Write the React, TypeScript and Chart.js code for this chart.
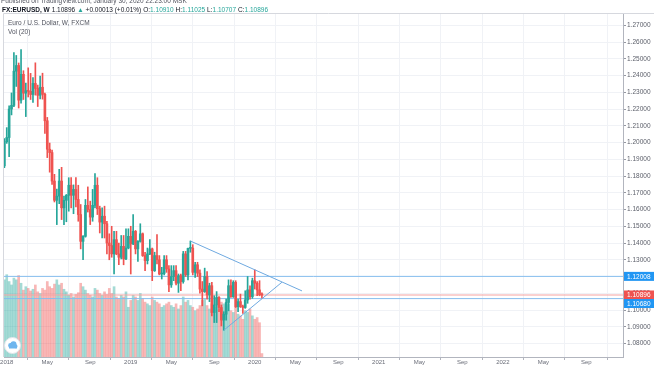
import React, { useEffect, useRef } from 'react';
import { Chart, registerables } from 'chart.js';

Chart.register(...registerables);

// Weekly bars, index 0 = week of Dec 25 2017
const opens = [
  1.1860, 1.2005, 1.2030, 1.2200, 1.2222, 1.2426, 1.2460, 1.2253, 1.2407, 1.2295,
  1.2310, 1.2306, 1.2287, 1.2353, 1.2323, 1.2282, 1.2330, 1.2288, 1.2130, 1.1960,
  1.1940, 1.1770, 1.1655, 1.1680, 1.1770, 1.1610, 1.1655, 1.1685, 1.1745, 1.1685,
  1.1720, 1.1660, 1.1570, 1.1410, 1.1440, 1.1625, 1.1600, 1.1555, 1.1625, 1.1745,
  1.1605, 1.1525, 1.1560, 1.1515, 1.1400, 1.1385, 1.1335, 1.1420, 1.1335, 1.1315,
  1.1380, 1.1305, 1.1370, 1.1440, 1.1395, 1.1470, 1.1365, 1.1410, 1.1455, 1.1325,
  1.1295, 1.1335, 1.1365, 1.1235, 1.1325, 1.1300, 1.1215, 1.1218, 1.1300, 1.1245,
  1.1150, 1.1200, 1.1235, 1.1160, 1.1205, 1.1170, 1.1335, 1.1210, 1.1368, 1.1370,
  1.1225, 1.1270, 1.1220, 1.1125, 1.1110, 1.1200, 1.1090, 1.1145, 1.0985, 1.1030,
  1.1075, 1.1015, 1.0940, 1.0975, 1.1045, 1.1145, 1.1080, 1.1165, 1.1020, 1.1050,
  1.1020, 1.1015, 1.1060, 1.1120, 1.1080, 1.1175, 1.1160, 1.1120, 1.1091,
];
const highs = [
  1.2023, 1.2089, 1.2219, 1.2296, 1.2537, 1.2520, 1.2475, 1.2555, 1.2429, 1.2355,
  1.2446, 1.2413, 1.2388, 1.2476, 1.2343, 1.2397, 1.2414, 1.2296, 1.2150, 1.1997,
  1.1955, 1.1810, 1.1722, 1.1840, 1.1852, 1.1680, 1.1690, 1.1790, 1.1790, 1.1747,
  1.1790, 1.1745, 1.1630, 1.1445, 1.1660, 1.1735, 1.1650, 1.1720, 1.1815, 1.1790,
  1.1620, 1.1610, 1.1620, 1.1530, 1.1455, 1.1500, 1.1470, 1.1470, 1.1400, 1.1445,
  1.1445, 1.1485, 1.1485, 1.1500, 1.1570, 1.1475, 1.1415, 1.1515, 1.1460, 1.1345,
  1.1370, 1.1420, 1.1370, 1.1345, 1.1450, 1.1325, 1.1255, 1.1325, 1.1325, 1.1265,
  1.1265, 1.1265, 1.1265, 1.1215, 1.1215, 1.1350, 1.1350, 1.1370, 1.1412, 1.1390,
  1.1285, 1.1285, 1.1240, 1.1170, 1.1250, 1.1230, 1.1160, 1.1165, 1.1085, 1.1110,
  1.1080, 1.1030, 1.0990, 1.1065, 1.1180, 1.1180, 1.1175, 1.1175, 1.1065, 1.1095,
  1.1030, 1.1115, 1.1200, 1.1145, 1.1190, 1.1240, 1.1170, 1.1175, 1.11025,
];
const lows = [
  1.1850, 1.1995, 1.1916, 1.2165, 1.2214, 1.2335, 1.2206, 1.2235, 1.2257, 1.2155,
  1.2272, 1.2257, 1.2240, 1.2283, 1.2215, 1.2260, 1.2259, 1.2055, 1.1910, 1.1823,
  1.1750, 1.1645, 1.1510, 1.1635, 1.1540, 1.1510, 1.1527, 1.1590, 1.1610, 1.1575,
  1.1615, 1.1530, 1.1365, 1.1300, 1.1435, 1.1585, 1.1510, 1.1530, 1.1610, 1.1570,
  1.1460, 1.1430, 1.1430, 1.1335, 1.1300, 1.1315, 1.1215, 1.1330, 1.1270, 1.1305,
  1.1270, 1.1300, 1.1365, 1.1215, 1.1390, 1.1335, 1.1290, 1.1405, 1.1320, 1.1235,
  1.1275, 1.1330, 1.1175, 1.1230, 1.1275, 1.1210, 1.1185, 1.1210, 1.1225, 1.1110,
  1.1135, 1.1175, 1.1150, 1.1105, 1.1115, 1.1160, 1.1200, 1.1180, 1.1345, 1.1210,
  1.1195, 1.1200, 1.1100, 1.1025, 1.1105, 1.1065, 1.1050, 1.0965, 1.0925, 1.0925,
  1.0990, 1.0905, 1.0879, 1.0940, 1.0995, 1.1075, 1.1075, 1.1015, 1.0990, 1.1015,
  1.0980, 1.1010, 1.1040, 1.1065, 1.1070, 1.1125, 1.1085, 1.1085, 1.10707,
];
const closes = [
  1.2005, 1.2030, 1.2200, 1.2222, 1.2426, 1.2460, 1.2253, 1.2407, 1.2295, 1.2310,
  1.2306, 1.2287, 1.2353, 1.2323, 1.2282, 1.2330, 1.2288, 1.2130, 1.1960, 1.1940,
  1.1770, 1.1655, 1.1680, 1.1770, 1.1610, 1.1655, 1.1685, 1.1745, 1.1685, 1.1720,
  1.1660, 1.1570, 1.1410, 1.1440, 1.1625, 1.1600, 1.1555, 1.1625, 1.1745, 1.1605,
  1.1525, 1.1560, 1.1515, 1.1400, 1.1385, 1.1335, 1.1420, 1.1335, 1.1315, 1.1380,
  1.1305, 1.1370, 1.1440, 1.1395, 1.1470, 1.1365, 1.1410, 1.1455, 1.1325, 1.1295,
  1.1335, 1.1365, 1.1235, 1.1325, 1.1300, 1.1215, 1.1218, 1.1300, 1.1245, 1.1150,
  1.1200, 1.1235, 1.1160, 1.1205, 1.1170, 1.1335, 1.1210, 1.1368, 1.1370, 1.1225,
  1.1270, 1.1220, 1.1125, 1.1110, 1.1200, 1.1090, 1.1145, 1.0985, 1.1030, 1.1075,
  1.1015, 1.0940, 1.0975, 1.1045, 1.1145, 1.1080, 1.1165, 1.1020, 1.1050, 1.1020,
  1.1015, 1.1060, 1.1120, 1.1080, 1.1175, 1.1160, 1.1120, 1.1091, 1.10896,
];
const volumes = [
  90, 96, 88, 84, 92, 90, 95, 86, 78, 82, 80, 77, 79, 84, 76, 74, 80, 78, 88,
  82, 80, 85, 90, 84, 86, 79, 76, 72, 74, 70, 73, 75, 86, 82, 78, 74, 72,
  70, 80, 78, 74, 72, 76, 73, 80, 74, 82, 70, 68, 72, 70, 76, 58, 66,
  72, 70, 66, 74, 68, 64, 62, 60, 70, 66, 64, 62, 58, 60, 62, 64, 60,
  58, 62, 56, 60, 70, 64, 66, 60, 58, 54, 56, 60, 66, 68, 60, 56, 62,
  58, 60, 56, 64, 62, 60, 62, 54, 52, 58, 50, 48, 44, 54, 52, 56, 48, 44,
  46, 40, 4,
];

const timeTickIndex = [1, 18, 36, 53, 70, 88, 105, 122, 140, 157, 174, 192, 209, 226, 244];
const timeTickLabels = ['2018', 'May', 'Sep', '2019', 'May', 'Sep', '2020', 'May', 'Sep', '2021', 'May', 'Sep', '2022', 'May', 'Sep'];
const priceTicks = [1.08, 1.09, 1.10, 1.11, 1.12, 1.13, 1.14, 1.15, 1.16, 1.17, 1.18, 1.19, 1.20, 1.21, 1.22, 1.23, 1.24, 1.25, 1.26, 1.27];

const supportLevel = 1.12008;
const lowerLevel = 1.1068;
const lastPrice = 1.10896;
const upperTrend = [{ x: 78, y: 1.1412 }, { x: 124.8, y: 1.1114 }];
const lowerTrend = [{ x: 92, y: 1.0879 }, { x: 116.4, y: 1.1166 }];

const X_MIN = -0.15;
const X_MAX = 259.4;
const Y_MIN = 1.07194;
const Y_MAX = 1.27675;

const UP = '#26a69a';
const DOWN = '#ef5350';
const FONT = '"Liberation Sans", Arial, sans-serif';

const drawPlugin = {
  id: 'tvDecor',
  afterDraw(chart: any) {
    const ctx = chart.ctx as CanvasRenderingContext2D;
    const { left, top, right, bottom } = chart.chartArea;
    const ys = chart.scales.y;
    const xs = chart.scales.x;
    ctx.save();

    // frame (top & left)
    ctx.strokeStyle = '#d6d8de';
    ctx.lineWidth = 1;
    ctx.beginPath();
    ctx.moveTo(left - 0.5, bottom);
    ctx.lineTo(left - 0.5, top - 0.5);
    ctx.lineTo(chart.width, top - 0.5);
    ctx.stroke();

    // time labels
    ctx.fillStyle = '#6a6d78';
    ctx.font = `6px ${FONT}`;
    ctx.textAlign = 'center';
    ctx.textBaseline = 'middle';
    timeTickIndex.forEach((v, i) => {
      ctx.fillText(timeTickLabels[i], xs.getPixelForValue(v), bottom + 5.5);
    });

    // price tags
    const tag = (price: number, cy: number, color: string) => {
      ctx.fillStyle = color;
      ctx.fillRect(right + 1, cy - 4.5, chart.width - right - 1, 9);
      ctx.fillStyle = '#ffffff';
      ctx.font = `6.5px ${FONT}`;
      ctx.textAlign = 'left';
      ctx.textBaseline = 'middle';
      ctx.fillText(price.toFixed(5), right + 4, cy + 0.5);
    };
    tag(supportLevel, ys.getPixelForValue(supportLevel), '#2196f3');
    const redY = ys.getPixelForValue(lastPrice);
    tag(lastPrice, redY, '#ef5350');
    tag(lowerLevel, Math.max(ys.getPixelForValue(lowerLevel), redY + 8.5), '#2196f3');

    // header
    ctx.textAlign = 'left';
    ctx.textBaseline = 'middle';
    ctx.fillStyle = '#50535e';
    ctx.font = `6.5px ${FONT}`;
    ctx.fillText('Published on TradingView.com, January 30, 2020 22:23:00 MSK', 1, 1.5);

    let x = 2;
    const seg = (t: string, color: string, bold = false) => {
      ctx.font = `${bold ? 'bold ' : ''}6.5px ${FONT}`;
      ctx.fillStyle = color;
      ctx.fillText(t, x, 10.5);
      x += ctx.measureText(t).width + 2;
    };
    seg('FX:EURUSD, W', '#131722', true);
    seg('1.10896', '#131722');
    seg('▲', UP);
    seg('+0.00013 (+0.01%)', '#131722');
    seg('O:', '#131722');
    x -= 2;
    seg('1.10910', UP);
    seg('H:', '#131722');
    x -= 2;
    seg('1.11025', UP);
    seg('L:', '#131722');
    x -= 2;
    seg('1.10707', UP);
    seg('C:', '#131722');
    x -= 2;
    seg('1.10896', UP);

    ctx.font = `6.5px ${FONT}`;
    ctx.fillStyle = '#50535e';
    ctx.fillText('Euro / U.S. Dollar, W, FXCM', left + 4, 23.5);
    ctx.fillText('Vol (20)', left + 4, 32);

    // logo
    ctx.beginPath();
    ctx.arc(12.5, 345.5, 8, 0, Math.PI * 2);
    ctx.fillStyle = '#ffffff';
    ctx.fill();
    ctx.strokeStyle = '#e3e5ea';
    ctx.stroke();
    ctx.fillStyle = '#6fb6ee';
    ctx.beginPath();
    ctx.arc(10.5, 345.5, 2.4, 0, Math.PI * 2);
    ctx.arc(13.5, 344.2, 3, 0, Math.PI * 2);
    ctx.arc(15.5, 346.3, 2, 0, Math.PI * 2);
    ctx.fill();
    ctx.fillRect(9, 346, 8, 2.5);

    ctx.restore();
  },
};

export default function App() {
  const ref = useRef<HTMLCanvasElement>(null);

  useEffect(() => {
    if (!ref.current) return;
    const idx = closes.map((_, i) => i);
    const dirColor = idx.map((i) => (closes[i] >= opens[i] ? UP : DOWN));
    const volColor = idx.map((i) => (closes[i] >= opens[i] ? 'rgba(38,166,154,0.42)' : 'rgba(239,83,80,0.42)'));

    const chart = new Chart(ref.current, {
      type: 'bar',
      data: {
        datasets: [
          {
            type: 'line',
            data: upperTrend,
            borderColor: '#6ea9e0',
            borderWidth: 1,
            pointRadius: 0,
            yAxisID: 'y',
            order: 0,
          } as any,
          {
            type: 'line',
            data: lowerTrend,
            borderColor: '#6ea9e0',
            borderWidth: 1,
            pointRadius: 0,
            yAxisID: 'y',
            order: 0,
          } as any,
          {
            type: 'bar',
            data: idx.map((i) => ({ x: i, y: [opens[i], closes[i]] })),
            backgroundColor: dirColor,
            barThickness: 2,
            minBarLength: 1,
            grouped: false,
            yAxisID: 'y',
            order: 1,
          } as any,
          {
            type: 'bar',
            data: idx.map((i) => ({ x: i, y: [lows[i], highs[i]] })),
            backgroundColor: dirColor,
            barThickness: 1,
            grouped: false,
            yAxisID: 'y',
            order: 2,
          } as any,
          {
            type: 'line',
            data: [{ x: X_MIN, y: supportLevel }, { x: X_MAX, y: supportLevel }],
            borderColor: '#86bdee',
            borderWidth: 1,
            pointRadius: 0,
            yAxisID: 'y',
            order: 5,
          } as any,
          {
            type: 'line',
            data: [{ x: X_MIN, y: lastPrice }, { x: X_MAX, y: lastPrice }],
            borderColor: '#f4a3a2',
            borderWidth: 1,
            pointRadius: 0,
            yAxisID: 'y',
            order: 5,
          } as any,
          {
            type: 'line',
            data: [{ x: X_MIN, y: lowerLevel }, { x: X_MAX, y: lowerLevel }],
            borderColor: '#86bdee',
            borderWidth: 1,
            pointRadius: 0,
            yAxisID: 'y',
            order: 5,
          } as any,
          {
            type: 'bar',
            data: idx.map((i) => ({ x: i, y: volumes[i] })),
            backgroundColor: volColor,
            barThickness: 2,
            grouped: false,
            yAxisID: 'yv',
            order: 10,
          } as any,
        ],
      },
      options: {
        animation: false,
        responsive: false,
        maintainAspectRatio: false,
        devicePixelRatio: 1,
        layout: { padding: { left: 4, top: 14, right: 0, bottom: 0 } },
        plugins: { legend: { display: false }, tooltip: { enabled: false } },
        scales: {
          x: {
            type: 'linear',
            min: X_MIN,
            max: X_MAX,
            offset: false,
            afterBuildTicks: (s: any) => {
              s.ticks = timeTickIndex.map((v) => ({ value: v }));
            },
            afterFit: (s: any) => {
              s.height = 9;
            },
            ticks: { display: false },
            grid: { color: '#f0f2f6', tickLength: 3, tickColor: '#b2b5be' },
            border: { display: true, color: '#b2b5be' },
          },
          y: {
            position: 'right',
            min: Y_MIN,
            max: Y_MAX,
            afterBuildTicks: (s: any) => {
              s.ticks = priceTicks.map((v) => ({ value: v }));
            },
            afterFit: (s: any) => {
              s.width = 31;
            },
            ticks: {
              callback: (v: any) => Number(v).toFixed(5),
              font: { size: 6.5, family: FONT },
              color: '#5d606b',
              padding: 1,
            },
            grid: { color: '#f0f2f6', tickLength: 3, tickColor: '#9598a1' },
            border: { display: true, color: '#b2b5be' },
          },
          yv: {
            display: false,
            min: 0,
            max: 400,
          },
        },
      } as any,
      plugins: [drawPlugin],
    });
    return () => chart.destroy();
  }, []);

  return (
    <div style={{ position: 'fixed', left: 0, top: 0, width: 654, height: 366, background: '#ffffff' }}>
      <canvas ref={ref} width={654} height={366} style={{ display: 'block' }} />
    </div>
  );
}
